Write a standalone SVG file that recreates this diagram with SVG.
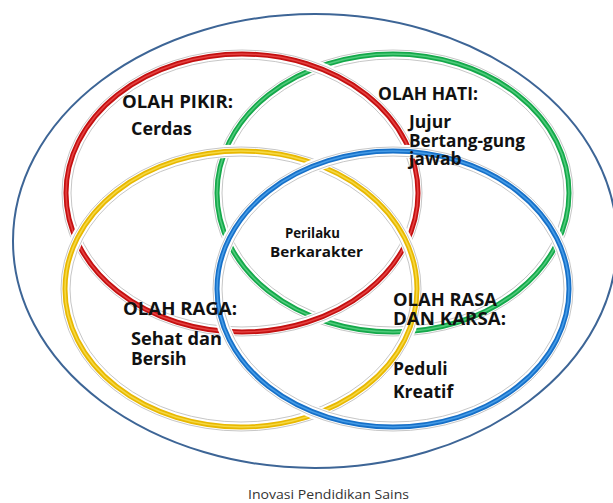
<svg xmlns="http://www.w3.org/2000/svg" width="613" height="503" viewBox="0 0 613 503">
<style>
.halo{fill:none;stroke:#fff;stroke-width:13}
.sh{fill:none;stroke:#b8b8b8;stroke-width:0.8}
.band{fill:none;stroke-width:5}
.hl{fill:none;stroke-width:1.6;opacity:0.55}
.lbl{font-family:"Open Sans","Liberation Sans",sans-serif;font-weight:bold;font-size:17.5px;fill:#111}
.ctr{font-family:"Open Sans","Liberation Sans",sans-serif;font-weight:bold;font-size:13.5px;fill:#111}
.cap{font-family:"Open Sans","Liberation Sans",sans-serif;font-size:13px;fill:#333}
</style>
<rect width="613" height="503" fill="#fff"/>
<g id="outer">
<ellipse cx="315" cy="241" rx="302" ry="227" fill="none" stroke="#3d6596" stroke-width="2"/>
</g>
<g id="ring-green">
<ellipse class="halo" cx="393" cy="193" rx="176" ry="139"/>
<ellipse class="sh" cx="393" cy="193" rx="180" ry="143"/>
<ellipse class="sh" cx="393" cy="193" rx="171" ry="134"/>
<ellipse class="band" cx="393" cy="193" rx="176" ry="139" stroke="#14a84a"/>
<ellipse class="hl" cx="393" cy="193" rx="176" ry="139" stroke="#7fe8a4"/>
</g>
<g id="ring-red">
<ellipse class="halo" cx="242" cy="193" rx="176" ry="139"/>
<ellipse class="sh" cx="242" cy="193" rx="180" ry="143"/>
<ellipse class="sh" cx="242" cy="193" rx="171" ry="134"/>
<ellipse class="band" cx="242" cy="193" rx="176" ry="139" stroke="#c41010"/>
<ellipse class="hl" cx="242" cy="193" rx="176" ry="139" stroke="#ff6a6a"/>
</g>
<g id="ring-yellow">
<ellipse class="halo" cx="241" cy="289" rx="176" ry="138"/>
<ellipse class="sh" cx="241" cy="289" rx="180" ry="142"/>
<ellipse class="sh" cx="241" cy="289" rx="171" ry="133"/>
<ellipse class="band" cx="241" cy="289" rx="176" ry="138" stroke="#e8b800"/>
<ellipse class="hl" cx="241" cy="289" rx="176" ry="138" stroke="#fff27a"/>
</g>
<g id="ring-blue">
<ellipse class="halo" cx="393" cy="289" rx="176" ry="138"/>
<ellipse class="sh" cx="393" cy="289" rx="180" ry="142"/>
<ellipse class="sh" cx="393" cy="289" rx="171" ry="133"/>
<ellipse class="band" cx="393" cy="289" rx="176" ry="138" stroke="#1670c8"/>
<ellipse class="hl" cx="393" cy="289" rx="176" ry="138" stroke="#6ec0ff"/>
</g>
<g id="connectors"></g>
<g id="olah-pikir">
<text class="lbl" x="122" y="108" textLength="111" lengthAdjust="spacingAndGlyphs">OLAH PIKIR:</text>
<text class="lbl" x="131" y="135" textLength="61" lengthAdjust="spacingAndGlyphs">Cerdas</text>
</g>
<g id="olah-hati">
<text class="lbl" x="378" y="100" textLength="100" lengthAdjust="spacingAndGlyphs">OLAH HATI:</text>
<text class="lbl" x="409" y="128">Jujur</text>
<text class="lbl" x="409" y="147" textLength="116" lengthAdjust="spacingAndGlyphs">Bertang-gung</text>
<text class="lbl" x="409" y="165">jawab</text>
</g>
<g id="olah-raga">
<text class="lbl" x="123" y="315" textLength="114" lengthAdjust="spacingAndGlyphs">OLAH RAGA:</text>
<text class="lbl" x="131" y="345" textLength="91" lengthAdjust="spacingAndGlyphs">Sehat dan</text>
<text class="lbl" x="131" y="365">Bersih</text>
</g>
<g id="olah-rasa">
<text class="lbl" x="393" y="306" textLength="104" lengthAdjust="spacingAndGlyphs">OLAH RASA</text>
<text class="lbl" x="393" y="325" textLength="113" lengthAdjust="spacingAndGlyphs">DAN KARSA:</text>
<text class="lbl" x="393" y="375">Peduli</text>
<text class="lbl" x="393" y="398">Kreatif</text>
</g>
<g id="center">
<text class="ctr" x="285" y="238" textLength="55" lengthAdjust="spacingAndGlyphs">Perilaku</text>
<text class="ctr" x="270" y="257" textLength="93" lengthAdjust="spacingAndGlyphs">Berkarakter</text>
</g>
<g id="caption">
<text class="cap" x="248" y="499" textLength="161" lengthAdjust="spacingAndGlyphs">Inovasi Pendidikan Sains</text>
</g>
</svg>
